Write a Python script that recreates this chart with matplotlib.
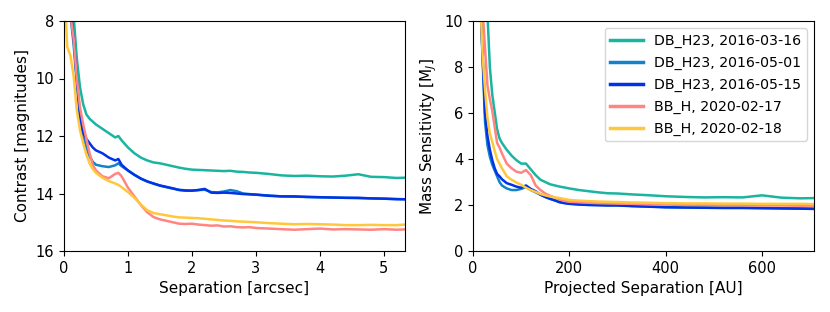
import matplotlib
matplotlib.use("Agg")
import matplotlib.pyplot as plt
import numpy as np

labels = ["DB_H23, 2016-03-16", "DB_H23, 2016-05-01", "DB_H23, 2016-05-15",
          "BB_H, 2020-02-17", "BB_H, 2020-02-18"]
colors = ["#1ab5a0", "#1382c8", "#0033e6", "#ff8582", "#ffc83c"]

# Left panel: separation [arcsec] vs contrast [mag]
sep = [0.03, 0.05, 0.1, 0.15, 0.2, 0.25, 0.3, 0.35, 0.4, 0.45, 0.5, 0.6, 0.7, 0.8, 0.85, 0.9,
       1.0, 1.1, 1.2, 1.3, 1.4, 1.5, 1.6, 1.7, 1.8, 1.9, 2.0, 2.1, 2.2, 2.3, 2.4, 2.5,
       2.6, 2.7, 2.8, 2.9, 3.0, 3.2, 3.4, 3.6, 3.8, 4.0, 4.2, 4.4, 4.6, 4.8, 5.0, 5.2, 5.33]

con_0316 = [5.0, 6.0, 7.0, 7.8, 9.3, 10.3, 10.9, 11.25, 11.4, 11.5, 11.6, 11.75, 11.9, 12.05, 12.0, 12.15,
            12.4, 12.6, 12.75, 12.85, 12.92, 12.95, 13.0, 13.05, 13.1, 13.14, 13.17, 13.18, 13.19, 13.2, 13.21, 13.22,
            13.21, 13.24, 13.25, 13.27, 13.28, 13.32, 13.37, 13.39, 13.38, 13.4, 13.41, 13.38, 13.33, 13.42, 13.43, 13.46, 13.45]
con_0501 = [5.0, 6.5, 7.8, 8.8, 10.2, 11.4, 12.0, 12.4, 12.7, 12.9, 13.0, 13.05, 13.08, 13.02, 12.95, 13.05,
            13.2, 13.35, 13.48, 13.58, 13.66, 13.73, 13.78, 13.83, 13.87, 13.89, 13.9, 13.88, 13.87, 13.95, 13.96, 13.93,
            13.88, 13.92, 14.0, 14.02, 14.04, 14.07, 14.1, 14.11, 14.12, 14.13, 14.14, 14.15, 14.16, 14.17, 14.18, 14.19, 14.2]
con_0515 = [5.0, 6.0, 7.6, 8.6, 10.0, 11.3, 11.9, 12.1, 12.25, 12.4, 12.5, 12.6, 12.75, 12.85, 12.8, 13.0,
            13.2, 13.35, 13.48, 13.58, 13.65, 13.72, 13.77, 13.82, 13.88, 13.9, 13.9, 13.88, 13.84, 13.97, 13.98, 13.97,
            13.98, 14.0, 14.02, 14.03, 14.04, 14.08, 14.1, 14.1, 14.12, 14.13, 14.14, 14.15, 14.15, 14.17, 14.18, 14.2, 14.2]
con_0217 = [5.0, 7.0, 7.8, 8.6, 10.0, 11.0, 11.6, 12.1, 12.6, 13.0, 13.2, 13.4, 13.47, 13.32, 13.28, 13.4,
            13.8, 14.1, 14.4, 14.65, 14.82, 14.9, 14.95, 15.0, 15.05, 15.06, 15.05, 15.08, 15.1, 15.12, 15.11, 15.15,
            15.14, 15.17, 15.18, 15.17, 15.2, 15.22, 15.24, 15.26, 15.24, 15.22, 15.25, 15.24, 15.25, 15.26, 15.24, 15.26, 15.25]
con_0218 = [7.9, 8.9, 9.2, 9.9, 11.1, 11.8, 12.25, 12.65, 12.95, 13.15, 13.28, 13.45, 13.57, 13.65, 13.7, 13.78,
            13.95, 14.15, 14.38, 14.58, 14.68, 14.72, 14.76, 14.8, 14.83, 14.84, 14.85, 14.86, 14.88, 14.9, 14.92, 14.94,
            14.95, 14.97, 14.98, 14.99, 15.0, 15.03, 15.05, 15.07, 15.06, 15.07, 15.08, 15.1, 15.1, 15.09, 15.1, 15.1, 15.08]

# Right panel: projected separation [AU] vs mass sensitivity [MJ]
au = [15, 20, 25, 30, 35, 40, 45, 50, 55, 60, 70, 80, 90, 100, 110, 120, 130, 140, 150, 160,
      170, 180, 190, 200, 220, 240, 260, 280, 300, 330, 360, 400, 440, 480, 520, 560, 600, 640, 680, 708]

mass_0316 = [14, 13, 12, 10.3, 8.0, 6.8, 6.05, 5.3, 4.9, 4.7, 4.4, 4.15, 3.95, 3.8, 3.8, 3.55, 3.3, 3.1, 3.0, 2.9,
             2.85, 2.8, 2.76, 2.72, 2.65, 2.6, 2.55, 2.51, 2.5, 2.46, 2.43, 2.38, 2.35, 2.33, 2.34, 2.33, 2.42, 2.32, 2.29, 2.3]
mass_0501 = [11, 8.3, 5.6, 4.6, 4.1, 3.75, 3.5, 3.25, 3.0, 2.85, 2.72, 2.65, 2.65, 2.7, 2.78, 2.65, 2.55, 2.45, 2.35, 2.27,
             2.2, 2.13, 2.09, 2.06, 2.03, 2.01, 2.0, 1.99, 1.99, 1.96, 1.94, 1.91, 1.9, 1.89, 1.88, 1.88, 1.87, 1.86, 1.85, 1.84]
mass_0515 = [11, 8.5, 6.0, 5.0, 4.4, 3.95, 3.6, 3.35, 3.25, 3.12, 2.95, 2.88, 2.8, 2.75, 2.85, 2.7, 2.6, 2.45, 2.35, 2.27,
             2.2, 2.12, 2.08, 2.05, 2.02, 2.0, 1.99, 1.98, 1.98, 1.95, 1.93, 1.9, 1.89, 1.88, 1.87, 1.87, 1.86, 1.85, 1.84, 1.83]
mass_0217 = [14, 10.5, 8.8, 7.2, 6.6, 6.1, 5.4, 4.7, 4.5, 4.25, 3.8, 3.6, 3.45, 3.4, 3.52, 3.3, 2.85, 2.65, 2.5, 2.4,
             2.32, 2.24, 2.18, 2.14, 2.12, 2.1, 2.08, 2.07, 2.06, 2.05, 2.03, 2.02, 2.0, 2.0, 1.99, 1.99, 1.98, 1.98, 1.97, 1.97]
mass_0218 = [11, 8.5, 7.0, 5.8, 5.1, 4.75, 4.35, 4.0, 3.8, 3.6, 3.25, 3.1, 2.98, 2.88, 2.75, 2.65, 2.57, 2.48, 2.42, 2.37,
             2.33, 2.3, 2.26, 2.22, 2.19, 2.17, 2.15, 2.14, 2.13, 2.11, 2.1, 2.08, 2.07, 2.07, 2.06, 2.06, 2.05, 2.05, 2.05, 2.04]

contrasts = [con_0316, con_0501, con_0515, con_0217, con_0218]
masses = [mass_0316, mass_0501, mass_0515, mass_0217, mass_0218]

fig = plt.figure(figsize=(8.3, 3.12), dpi=100)
ax1 = fig.add_axes([64/830, 61/312, 341/830, 230/312])
ax2 = fig.add_axes([473/830, 61/312, 341/830, 230/312])

lw = 1.8
for c, y, lab in zip(colors, contrasts, labels):
    ax1.plot(sep, y, color=c, lw=lw, label=lab)
for c, y, lab in zip(colors, masses, labels):
    ax2.plot(au, y, color=c, lw=lw, label=lab)

ax1.set_xlim(0, 5.33)
ax1.set_ylim(16, 8)
ax1.set_yticks([8, 10, 12, 14, 16])
ax1.set_xticks([0, 1, 2, 3, 4, 5])
ax1.set_xlabel("Separation [arcsec]", fontsize=11)
ax1.set_ylabel("Contrast [magnitudes]", fontsize=11)

ax2.set_xlim(0, 708)
ax2.set_ylim(0, 10)
ax2.set_xticks([0, 200, 400, 600])
ax2.set_yticks([0, 2, 4, 6, 8, 10])
ax2.set_xlabel("Projected Separation [AU]", fontsize=11)
ax2.set_ylabel("Mass Sensitivity [M$_{J}$]", fontsize=11)
for ax in (ax1, ax2):
    ax.tick_params(labelsize=10.5)
leg = ax2.legend(loc="upper right", fontsize=10.2, handlelength=2.3, labelspacing=0.55)
for line in leg.get_lines():
    line.set_linewidth(2.5)

fig.savefig("out.png", dpi=100)
